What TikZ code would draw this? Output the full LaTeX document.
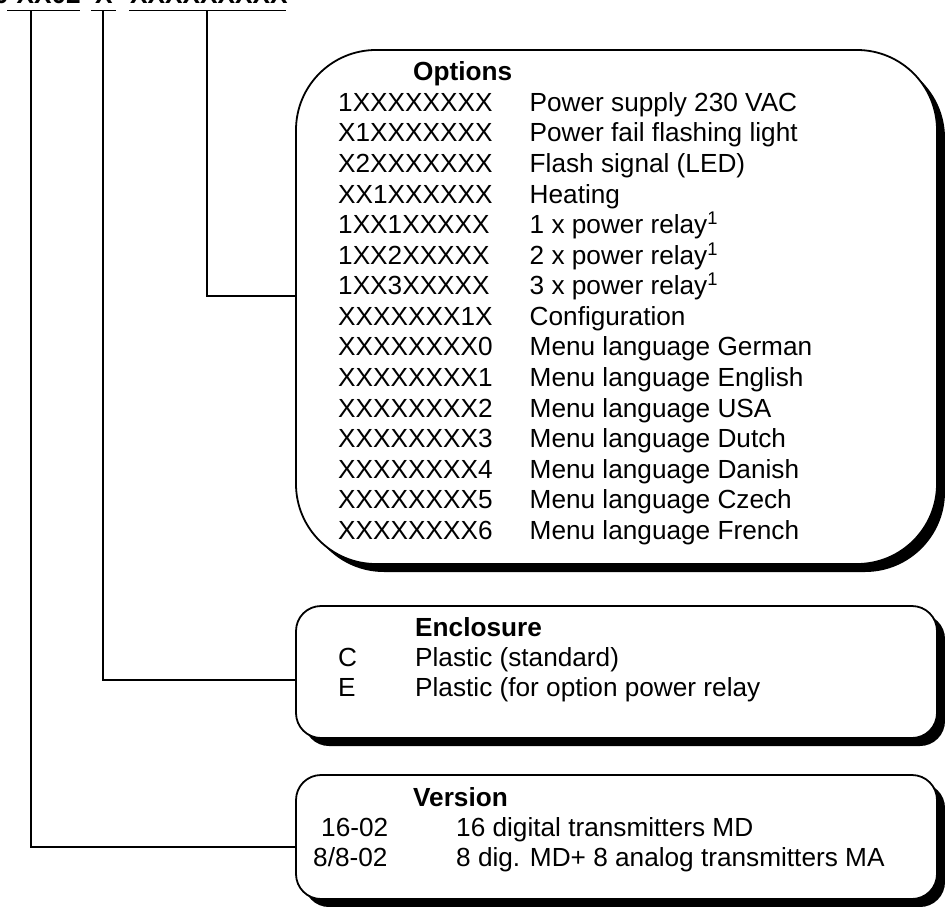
\documentclass[tikz,border=0pt]{standalone}
\usepackage{fontspec}
\setmainfont{Liberation Sans}
\usetikzlibrary{shadows}
\begin{document}
\begin{tikzpicture}[x=1pt,y=-1pt,
  box/.style={draw, line width=1.8pt, fill=white, inner sep=0pt,
    drop shadow={shadow xshift=8pt, shadow yshift=-8pt, fill=black, opacity=1}},
  txt/.style={anchor=base west, inner sep=0pt, font=\fontsize{26.2}{30}\selectfont},
  ttl/.style={anchor=base west, inner sep=0pt, font=\fontsize{26.2}{30}\selectfont\bfseries},
  conn/.style={line width=1.5pt}]
\useasboundingbox (0,0) rectangle (945,907);

% header (cut off at the top)
\node[ttl, anchor=base east] (h0) at (9,4) {0};
\node[ttl, anchor=base east] (h1) at (81,4) {XX02};
\node[ttl] (h2) at (95,4) {X};
\node[ttl] (h3) at (130,4) {XXXXXXXXX};
\draw[conn] (7,10.5) -- (80,10.5);
\draw[conn] (91,10.5) -- (116,10.5);
\draw[conn] (129,10.5) -- (286,10.5);
\coordinate (u1) at (31,10.5);
\coordinate (u2) at (103,10.5);
\coordinate (u3) at (207,10.5);

% boxes
\node[box, rounded corners=80pt, minimum width=641pt, minimum height=514pt] (opt) at (616.5,307) {};
\node[box, rounded corners=25pt, minimum width=641pt, minimum height=132pt] (enc) at (616.5,672) {};
\node[box, rounded corners=25pt, minimum width=641pt, minimum height=124pt] (ver) at (616.5,837) {};

% connectors
\draw[conn] (u3) |- ([yshift=11pt]opt.west);
\draw[conn] (u2) |- ([yshift=-8pt]enc.west);
\draw[conn] (u1) |- ([yshift=-10pt]ver.west);

% Options
\node[ttl] (ot) at (413,81) {Options};
\foreach \c/\d [count=\i from 0] in {
  1XXXXXXXX/Power supply 230 VAC,
  X1XXXXXXX/Power fail flashing light,
  X2XXXXXXX/Flash signal (LED),
  XX1XXXXXX/Heating,
  1XX1XXXXX/1 x power relay\textsuperscript{1},
  1XX2XXXXX/2 x power relay\textsuperscript{1},
  1XX3XXXXX/3 x power relay\textsuperscript{1},
  XXXXXXX1X/Configuration,
  XXXXXXXX0/Menu language German,
  XXXXXXXX1/Menu language English,
  XXXXXXXX2/Menu language USA,
  XXXXXXXX3/Menu language Dutch,
  XXXXXXXX4/Menu language Danish,
  XXXXXXXX5/Menu language Czech,
  XXXXXXXX6/Menu language French}{
  \node[txt] (oc\i) at (338,{111.4+30.57*\i}) {\c};
  \node[txt] (od\i) at (529.5,{111.4+30.57*\i}) {\d};
}

% Enclosure
\node[ttl] (et) at (415,636) {Enclosure};
\node[txt] (ec1) at (338,666) {C};
\node[txt] (ed1) at (415,666) {Plastic (standard)};
\node[txt] (ec2) at (338,696) {E};
\node[txt] (ed2) at (415,696) {Plastic (for option power relay};

% Version
\node[ttl] (vt) at (413,806) {Version};
\node[txt] (vc1) at (321,836) {16-02};
\node[txt] (vd1) at (456,836) {16 digital transmitters MD};
\node[txt] (vc2) at (313,866) {8/8-02};
\node[txt] (vd2) at (456,866) {8 dig. MD+ 8 analog transmitters MA};
\end{tikzpicture}
\end{document}
